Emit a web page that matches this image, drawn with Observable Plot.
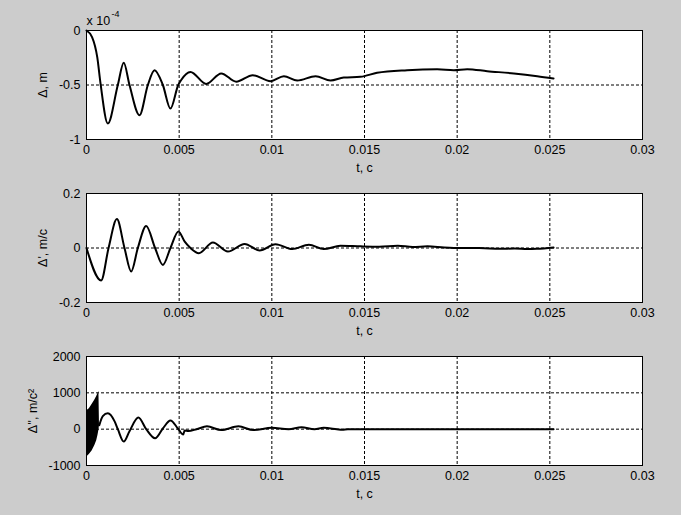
<!DOCTYPE html>
<html>
<head>
<meta charset="utf-8">
<script src="https://cdn.jsdelivr.net/npm/d3@7"></script>
<script src="https://cdn.jsdelivr.net/npm/@observablehq/plot@0.6"></script>
<style>
  html, body { margin: 0; padding: 0; background: #cccccc; }
  #fig { position: relative; width: 681px; height: 515px; background: #cccccc; overflow: hidden; }
  #fig svg { position: absolute; left: 0; }
</style>
</head>
<body>
<div id="fig"></div>
<script>
// ---- data ----
const xTicks = [0, 0.005, 0.01, 0.015, 0.02, 0.025, 0.03];
const xGrid = [0.005, 0.01, 0.015, 0.02, 0.025];

// Panel 1: displacement (units of 1e-4 m)
const dispT = [0, 0.0003, 0.00058, 0.00076, 0.00115, 0.00169, 0.00201, 0.00232, 0.00286, 0.00331, 0.00367, 0.00412, 0.00453, 0.00495, 0.0051, 0.00561, 0.00646, 0.00727, 0.00808, 0.00897, 0.00993, 0.01065, 0.01137, 0.01236, 0.01317, 0.01388, 0.01478, 0.01568, 0.0173, 0.01892, 0.01982, 0.02054, 0.02162, 0.02306, 0.02432, 0.0252];
const dispV = [0, -0.06, -0.245, -0.49, -0.853, -0.5, -0.297, -0.5, -0.777, -0.5, -0.364, -0.5, -0.716, -0.5, -0.456, -0.38, -0.49, -0.394, -0.47, -0.41, -0.465, -0.419, -0.459, -0.419, -0.459, -0.431, -0.425, -0.388, -0.364, -0.355, -0.364, -0.355, -0.373, -0.394, -0.419, -0.44];
const dispYTicks = [0, -0.5, -1];
const dispYGrid = [-0.5];

// Panel 2: velocity (m/c)
const velT = [0, 0.00079, 0.00119, 0.00164, 0.00205, 0.00241, 0.00277, 0.00322, 0.0037, 0.00412, 0.00453, 0.00496, 0.00529, 0.00561, 0.00606, 0.00682, 0.00763, 0.00853, 0.00934, 0.0102, 0.0111, 0.012, 0.0128, 0.0137, 0.0148, 0.0158, 0.0168, 0.0176, 0.0184, 0.0193, 0.0202, 0.0212, 0.0223, 0.0231, 0.0238, 0.0243, 0.0252];
const velV = [0, -0.119, 0, 0.106, 0, -0.086, 0, 0.081, 0, -0.062, 0, 0.061, 0.024, 0, -0.019, 0.02, -0.013, 0.015, -0.009, 0.014, -0.004, 0.012, -0.004, 0.008, 0.006, 0.005, 0.008, 0.004, 0.006, 0.002, 0.0, 0.0, -0.003, -0.002, -0.004, -0.003, 0.002];
const velYTicks = [0.2, 0, -0.2];
const velYGrid = [0];

// Panel 3: acceleration (m/c^2)
const accT = [0.00069, 0.00088, 0.00115, 0.00151, 0.00169, 0.00201, 0.00232, 0.0028, 0.00322, 0.0037, 0.00412, 0.00453, 0.00493, 0.00522, 0.00529, 0.0055, 0.00594, 0.0065, 0.00727, 0.0082, 0.009, 0.010, 0.0109, 0.0116, 0.0123, 0.0128, 0.0135, 0.0138, 0.0141, 0.0252];
const accV = [110, 358, 435, 220, 0, -340, -55, 320, 0, -252, 19, 240, 19, -150, -40, -50, 0, 78, -25, 78, -25, 37, 0, 50, 0, 37, 0, -17, 0, 0];
// high-frequency burst at start: envelope (low / high)
const envT = [0, 0.00015, 0.0003, 0.00045, 0.00055, 0.00062, 0.00067, 0.0007];
const envLow = [-770, -700, -600, -450, -320, -170, -30, 100];
const envHigh = [500, 560, 680, 800, 900, 980, 1040, 120];
const accYTicks = [2000, 1000, 0, -1000];
const accYGrid = [1000, 0];

// ---- drawing ----
const font = "'Liberation Sans', Arial, Helvetica, sans-serif";
const zip = (t, v) => t.map((x, i) => ({t: x, v: v[i]}));

function panel({top, height, mt, mb, yDomain, yTicks, yGrid, yLabel, yLabelOffset, marks}) {
  const svg = Plot.plot({
    width: 681, height,
    marginTop: mt, marginBottom: mb, marginLeft: 86, marginRight: 39,
    style: {background: "transparent", fontFamily: font, fontSize: "12.5px", color: "black", overflow: "visible"},
    x: {domain: [0, 0.03]},
    y: {domain: yDomain},
    marks: [
      Plot.frame({fill: "white", stroke: "none"}),
      Plot.ruleX(xGrid, {stroke: "black", strokeWidth: 1, strokeDasharray: "3,2"}),
      Plot.ruleY(yGrid, {stroke: "black", strokeWidth: 1, strokeDasharray: "3,2"}),
      ...marks,
      Plot.axisX({ticks: xTicks, tickSize: 0, tickPadding: 6, tickFormat: d => String(d), fontSize: 12.5,
        label: "t, c", labelAnchor: "center", labelArrow: "none", labelOffset: 32}),
      Plot.axisY({ticks: yTicks, tickSize: 0, tickPadding: 6, tickFormat: d => String(d), fontSize: 12.5,
        label: yLabel, labelAnchor: "center", labelArrow: "none", labelOffset: yLabelOffset}),
      Plot.frame({stroke: "black", strokeWidth: 1})
    ]
  });
  svg.style.top = top + "px";
  document.getElementById("fig").appendChild(svg);
}

panel({
  top: 0, height: 175, mt: 30, mb: 36,
  yDomain: [-1, 0], yTicks: dispYTicks, yGrid: dispYGrid,
  yLabel: "Δ, m", yLabelOffset: 48,
  marks: [
    Plot.line(zip(dispT, dispV), {x: "t", y: "v", stroke: "black", strokeWidth: 2, curve: "monotone-x"}),
    Plot.text(["x 10"], {frameAnchor: "top-left", text: d => d, dy: -10, textAnchor: "start", lineAnchor: "middle", fontSize: 12.5}),
    Plot.text(["-4"], {frameAnchor: "top-left", text: d => d, dx: 25, dy: -16, textAnchor: "start", lineAnchor: "middle", fontSize: 9})
  ]
});

panel({
  top: 175, height: 165, mt: 18, mb: 38,
  yDomain: [-0.2, 0.2], yTicks: velYTicks, yGrid: velYGrid,
  yLabel: "Δ', m/c", yLabelOffset: 48,
  marks: [
    Plot.line(zip(velT, velV), {x: "t", y: "v", stroke: "black", strokeWidth: 2, curve: "monotone-x"})
  ]
});

panel({
  top: 340, height: 175, mt: 16, mb: 50,
  yDomain: [-1000, 2000], yTicks: accYTicks, yGrid: accYGrid,
  yLabel: "Δ'', m/c²", yLabelOffset: 58,
  marks: [
    Plot.areaY(envT.map((t, i) => ({t, lo: envLow[i], hi: envHigh[i]})), {x: "t", y1: "lo", y2: "hi", fill: "black"}),
    Plot.line(zip(accT, accV), {x: "t", y: "v", stroke: "black", strokeWidth: 2, curve: "monotone-x"})
  ]
});
</script>
</body>
</html>
